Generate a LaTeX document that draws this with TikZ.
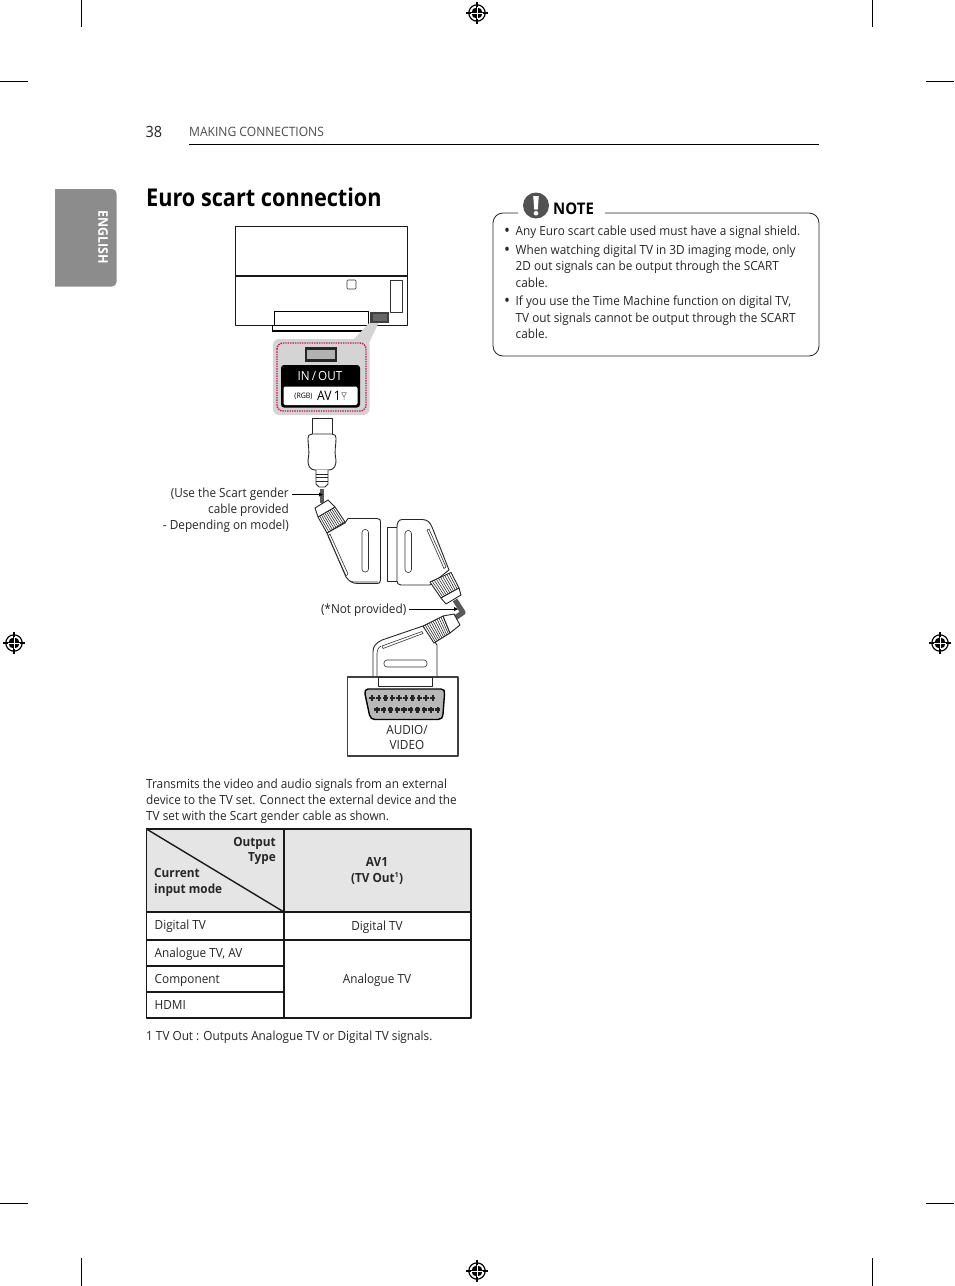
\documentclass[tikz,border=0pt]{standalone}
\usepackage{fontspec}
\usetikzlibrary{calc}
\setmainfont[FakeStretch=0.935]{Open Sans}
\newfontfamily\titlefam[FakeStretch=0.885]{Open Sans}
\begin{document}
\begin{tikzpicture}[x=1pt,y=-1pt,
  line join=round,
  txt/.style={anchor=base west,inner sep=0pt,font=\fontsize{12.6}{15}\selectfont,text=black!85},
  txtr/.style={txt,anchor=base east},
  txtc/.style={txt,anchor=base},
  btxt/.style={txt,font=\fontsize{12.6}{15}\selectfont\bfseries},
  btxtc/.style={btxt,anchor=base},
  btxtr/.style={btxt,anchor=base east},
  bul/.style={txt,font=\fontsize{17}{15}\selectfont},
  crop/.style={line width=0.7pt,black},
  outl/.style={line width=0.9pt,black},
  thin1/.style={line width=0.6pt,black!80},
  plug/.style={line width=0.9pt,black!85,fill=white},
  tbl/.style={line width=1.4pt,black!90},
  leader/.style={line width=0.8pt,black},
  ridge/.style={line width=0.55pt,black!85},
  regmark/.pic={
    \draw[line width=1.1pt,black] (0,-11)--(0,-5) (0,5)--(0,11) (-11,0)--(-5,0) (5,0)--(11,0);
    \draw[line width=1.2pt,black] (0,0) circle (8.2);
    \fill[black] (0,0) circle (5.6);
    \draw[line width=0.7pt,white] (0,-5.6)--(0,5.6) (-5.6,0)--(5.6,0);
  }]
\useasboundingbox (0,0) rectangle (954,1286);
\fill[white] (0,0) rectangle (954,1286);
% crop marks
\draw[crop] (81,0)--(81,27) (872,0)--(872,27) (81,1258)--(81,1286) (872,1258)--(872,1286)
 (0,81)--(28,81) (926,81)--(954,81) (0,1203)--(28,1203) (926,1203)--(954,1203);
\pic at (477,13) {regmark};
\pic at (477,1271) {regmark};
\pic at (14,643) {regmark};
\pic at (940,643) {regmark};
% side tab
\fill[black!45] (55,189) -- (112,189) arc (-90:0:4.5) -- (116.5,282) arc (0:90:4.5) -- (55,286.5) -- cycle;
\node[rotate=-90,inner sep=0pt,text=white,font=\fontsize{13.3}{15}\selectfont\bfseries] (tab) at (103,237.5) {ENGLISH};
% header
\node[txt,font=\fontsize{15.5}{18}\selectfont] (pg) at (145.5,137) {38};
\node[txt,text=black!70,font=\fontsize{12.9}{15}\selectfont] (hd) at (189,136) {MAKING CONNECTIONS};
\draw[line width=0.7pt,black] (189,144.5)--(819,144.5);
\node[txt,text=black,font=\fontsize{24.5}{30}\titlefam\bfseries] (title) at (146,206.5) {Euro scart connection};
% note
\draw[line width=0.8pt,black!85] (518,213) -- (503,213) arc (-90:-180:10) -- (493,346) arc (180:90:10) -- (809,356) arc (90:0:10) -- (819,223) arc (0:-90:10) -- (605,213);
\fill[black!68] (536,205.5) circle (13);
\fill[white] (533.2,196) -- (538.8,196) -- (537.7,209.5) -- (534.3,209.5) -- cycle;
\fill[white] (536,213.2) circle (2.3);
\node[txt,text=black,font=\fontsize{16}{19}\selectfont\bfseries] (note) at (553,214) {NOTE};
\node[bul] (b1) at (504,236.5) {•};
\node[txt] (n1) at (515.5,235) {Any Euro scart cable used must have a signal shield.};
\node[bul] (b2) at (504,255.5) {•};
\node[txt] (n2) at (515.5,254) {When watching digital TV in 3D imaging mode, only};
\node[txt] (n3) at (515.5,270.5) {2D out signals can be output through the SCART};
\node[txt] (n4) at (515.5,287) {cable.};
\node[bul] (b3) at (504,306.5) {•};
\node[txt] (n5) at (515.5,305) {If you use the Time Machine function on digital TV,};
\node[txt] (n6) at (515.5,322) {TV out signals cannot be output through the SCART};
\node[txt] (n7) at (515.5,338) {cable.};
% TV
\draw[line width=1pt,black!90] (235,226) rectangle (407.5,325);
\draw[line width=1.1pt,black!90] (235,276)--(407.5,276);
\draw[thin1,rounded corners=1pt] (347,280) rectangle (356,289);
\draw[thin1,line width=0.8pt] (390,280) rectangle (402,312);
\draw[outl,line width=0.7pt,fill=white] (274,311.5) rectangle (368,325);
\draw[line width=1.4pt,black] (272,331)--(371,331);
\draw[line width=0.8pt] (272.5,325)--(272.5,331) (369.5,325)--(369.5,331);
% callout
\fill[black!17,rounded corners=6pt] (273,339) rectangle (369.5,415);
\fill[black!17] (352,341) -- (374,318) -- (379,322) -- (368,345) -- cycle;
\fill[black!75] (370,312) rectangle (389,323);
\fill[black!60] (372.5,314) rectangle (386.5,321);
\draw[line width=1.4pt,densely dotted,color={rgb,255:red,200;green,20;blue,90},rounded corners=6pt] (277,343) rectangle (366,411);
\fill[black!85] (305,347) rectangle (337,362);
\fill[black!30] (307,350) rectangle (335,359);
\fill[black,rounded corners=3pt] (281,365) rectangle (360,407.5);
\fill[white,rounded corners=2pt] (283.5,386.5) rectangle (357.5,405);
\node[txtc,text=white,font=\fontsize{12.5}{14}\selectfont] (io) at (320,380.5) {IN\,/\,OUT};
\node[txtc,text=black,font=\fontsize{7.5}{8}\selectfont] (rgb) at (303.5,398.5) {(RGB)};
\node[txtc,text=black,font=\fontsize{13}{14}\selectfont] (av) at (329,400.5) {AV\,1};
\draw[line width=0.5pt,black!60] (341.5,392.5) -- (346.5,392.5) -- (344,397) -- cycle (344,397) -- (344,400);
% gender plug
\draw[plug] (312,418.5) rectangle (332,434);
\draw[plug] (312,434) .. controls (309,434) and (308,436) .. (308,438) .. controls (308,447) and (310,450) .. (308,460) .. controls (308,465) and (309,470) .. (316,470) -- (328,470) .. controls (335,470) and (336,465) .. (336,460) .. controls (334,450) and (336,447) .. (336,438) .. controls (336,436) and (335,434) .. (332,434) -- cycle;
\draw[plug] (316,470) -- (316,484) -- (319,487) -- (325,487) -- (328,484) -- (328,470);
\draw[ridge] (316,474)--(328,474) (316,477.5)--(328,477.5) (316,481)--(328,481);
% wire 1
\coordinate (w1a) at (322,489);
\coordinate (w1b) at (322,503);
\draw[line width=4pt,black!65] (w1a) -- (w1b);
% left scart
\draw[plug] (318,517) -- (315,508) -- (328,500) -- (335,507) -- (345,522) -- (327,533) -- cycle;
\draw[plug] (318,517) -- (335,507);
\foreach \t in {0.1,0.2,...,0.95}{ \draw[ridge] ($(318,517)!\t!(335,507)$) -- ($(327,533)!\t!(345,522)$); }
\draw[plug] (345,523) -- (348,518.5) -- (377,518.5) .. controls (380,518.5) and (380.5,520) .. (380.5,522) -- (380.5,580) .. controls (380.5,583) and (379,583.5) .. (377,583.5) -- (358,583.5) .. controls (352,583.5) and (349,581) .. (346,577) -- (327,533) -- cycle;
\draw[thin1] (330,534) -- (348,574) -- (346,576) -- (328,536) -- cycle;
\draw[thin1,rounded corners=3pt] (362,529.5) rectangle (368.5,572);
\draw[thin1] (350,581) .. controls (352,582) and (354,582) .. (358,582) -- (378,582);
% right scart
\draw[plug] (387,527) rectangle (397,581);
\draw[plug] (397,527) .. controls (397,524) and (398,519.5) .. (402,519.5) -- (422,519.5) .. controls (427,519.5) and (430,522) .. (432,527) -- (449,570) -- (430,585) -- (401,585) .. controls (398,585) and (397,583) .. (397,581) -- cycle;
\draw[thin1] (427,530) -- (429,529) -- (446,567) -- (444,568.5) -- cycle;
\draw[thin1,rounded corners=3pt] (405,530.5) rectangle (411.5,572.5);
\draw[plug] (430,582) -- (451,572.5) -- (459,588) -- (441,598) -- cycle;
\foreach \t in {0.1,0.2,...,0.95}{ \draw[ridge] ($(430,582)!\t!(451,572.5)$) -- ($(441,598)!\t!(459,588)$); }
\draw[plug] (441,598) -- (459,588) -- (461,595) -- (446,604) -- cycle;
% wire 2
\coordinate (w2a) at (455,600);
\coordinate (w2b) at (463,612.5);
\coordinate (w2c) at (452,620);
\draw[line width=5.2pt,black!65] (w2a) -- (w2b) -- (w2c);
% bottom scart
\draw[plug] (373,677) -- (373,652) .. controls (373,646) and (376,643) .. (382,640) -- (423,626) -- (437,645) -- (437,677) -- cycle;
\draw[thin1] (382,646) -- (422,631.5) -- (423,633.5) -- (383,648.5) -- cycle;
\draw[thin1,rounded corners=3pt] (384,660) rectangle (427,667);
\draw[thin1] (377,677) -- (377,653) .. controls (377,650) and (378,648) .. (381,646);
\draw[plug] (423,626) -- (443,616) -- (450,633) -- (434,643) -- cycle;
\foreach \t in {0.1,0.2,...,0.95}{ \draw[ridge] ($(423,626)!\t!(443,616)$) -- ($(434,643)!\t!(450,633)$); }
\draw[plug] (443,616) -- (454,614) -- (460,625) -- (450,633) -- cycle;
% port box
\draw[line width=1.1pt,black!75] (347.5,677) rectangle (458,756);
\draw[plug] (378.5,677.5) rectangle (432,686);
\draw[line width=1.4pt,black,fill=black!28] (368,689) -- (441,689) .. controls (444,689) and (445,691) .. (444.5,694) -- (443,714) .. controls (442.5,718) and (441,719.5) .. (438,719.5) -- (375,719.5) .. controls (372,719.5) and (370.5,718) .. (369.5,715) -- (365,694) .. controls (364.5,691) and (365.5,689) .. (368,689) -- cycle;
\foreach \i in {0,...,9}{
  \fill[black!85] ({372+6.75*\i-1.1},695) rectangle ++(2.2,6);
  \fill[black!85] ({372+6.75*\i-2.6},696.8) rectangle ++(5.2,2.4);
  \fill[black!85] ({377+6.75*\i-1.1},706.5) rectangle ++(2.2,6);
  \fill[black!85] ({377+6.75*\i-2.6},708.3) rectangle ++(5.2,2.4);
}
\node[txtc,font=\fontsize{12.6}{14}\selectfont] (aud) at (407,734) {AUDIO/};
\node[txtc,font=\fontsize{12.6}{14}\selectfont] (vid) at (407,749) {VIDEO};
% labels
\node[txtr] (l1) at (289,497) {(Use the Scart gender};
\node[txtr] (l2) at (289,513) {cable provided};
\node[txtr] (l3) at (289,529) {- Depending on model)};
\node[txtr] (l4) at (406.5,613) {(*Not provided)};
\coordinate (t1) at (321,494.5);
\coordinate (s1) at (292,494.5);
\coordinate (t2) at (456,609);
\coordinate (s2) at (409,609);
\draw[leader] (s1) -- (t1);
\fill[black] (323,494.5) -- (319,492.5) -- (319,496.5) -- cycle;
\draw[leader] (s2) -- (t2);
\fill[black] (458,609) -- (454,607) -- (454,611) -- cycle;
% paragraph
\node[txt] (p1) at (146,788) {Transmits the video and audio signals from an external};
\node[txt] (p2) at (146,804) {device to the TV set. Connect the external device and the};
\node[txt] (p3) at (146,820) {TV set with the Scart gender cable as shown.};
% table
\fill[black!10] (146.5,829) rectangle (471,912);
\draw[tbl] (146.5,829) rectangle (471,1018);
\draw[tbl] (284,829)--(284,1018);
\draw[tbl] (146.5,912)--(471,912);
\draw[tbl] (146.5,940)--(471,940);
\draw[tbl] (146.5,966)--(284,966);
\draw[tbl] (146.5,992)--(284,992);
\draw[tbl] (146.5,829)--(284,912);
\node[btxtr] (o1) at (276,846) {Output};
\node[btxtr] (o2) at (276,861) {Type};
\node[btxt] (c1) at (154,877) {Current};
\node[btxt] (c2) at (154,893) {input mode};
\node[btxtc] (av1) at (377,866) {AV1};
\node[btxtc] (tvo) at (377,882) {(TV Out\textsuperscript{\fontsize{7}{8}\selectfont 1})};
\node[txt] (r1) at (154.5,929) {Digital TV};
\node[txtc] (r1b) at (377,930) {Digital TV};
\node[txt] (r2) at (154.5,957) {Analogue TV, AV};
\node[txt] (r3) at (154.5,983) {Component};
\node[txt] (r4) at (154.5,1009) {HDMI};
\node[txtc] (r2b) at (377,983) {Analogue TV};
\node[txt] (fn) at (146,1040) {1 TV Out : Outputs Analogue TV or Digital TV signals.};
\end{tikzpicture}
\end{document}
